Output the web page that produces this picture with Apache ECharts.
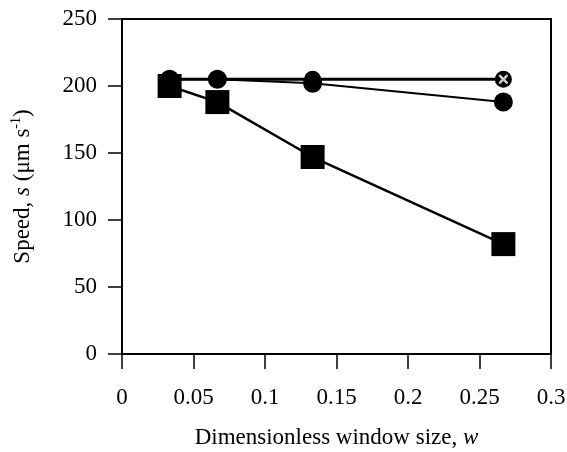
<!DOCTYPE html>
<html>
<head>
<meta charset="utf-8">
<script src="https://cdn.jsdelivr.net/npm/echarts@6/dist/echarts.min.js"></script>
<style>html,body{margin:0;padding:0;background:#fff}#c{width:567px;height:452px}</style>
</head>
<body>
<div id="c"></div>
<script>
var windowSizes = [0.0333, 0.0667, 0.1333, 0.2667];
var squareSpeeds = [200, 188, 147, 82];
var circleSpeeds = [205, 205, 202, 188];
var crossSpeeds = [205, 205, 205, 205];
var xTicks = [0, 0.05, 0.1, 0.15, 0.2, 0.25, 0.3];
var yTicks = [0, 50, 100, 150, 200, 250];

function pairs(xs, ys) { return xs.map(function (x, i) { return [x, ys[i]]; }); }

var font = 'Liberation Serif';
var fs = 23;
var xPath = 'path://M0,0 L2,0 L5,3 L8,0 L10,0 L10,2 L7,5 L10,8 L10,10 L8,10 L5,7 L2,10 L0,10 L0,8 L3,5 L0,2 Z';

var chart = echarts.init(document.getElementById('c'), null, {renderer: 'canvas'});
chart.setOption({
  animation: false,
  backgroundColor: '#fff',
  grid: {left: 122, right: 16, top: 19, bottom: 98, containLabel: false, outerBoundsMode: 'none',
    show: true, borderColor: '#000', borderWidth: 2, backgroundColor: 'transparent'},
  xAxis: {
    type: 'value', min: xTicks[0], max: xTicks[xTicks.length - 1], interval: 0.05,
    splitLine: {show: false},
    axisLine: {lineStyle: {color: '#000', width: 2}},
    axisTick: {show: true, inside: false, length: 15, lineStyle: {color: '#000', width: 1.5}},
    axisLabel: {color: '#000', fontFamily: font, fontSize: fs, margin: 32},
    name: 'Dimensionless window size, {i|w}',
    nameLocation: 'middle', nameGap: 72,
    nameTextStyle: {color: '#000', fontFamily: font, fontSize: fs,
      rich: {i: {fontStyle: 'italic', fontFamily: font, fontSize: fs, color: '#000'}}}
  },
  yAxis: {
    type: 'value', min: yTicks[0], max: yTicks[yTicks.length - 1], interval: 50,
    splitLine: {show: false},
    axisLine: {lineStyle: {color: '#000', width: 2}},
    axisTick: {show: true, inside: false, length: 14, lineStyle: {color: '#000', width: 1.5}},
    axisLabel: {color: '#000', fontFamily: font, fontSize: fs, margin: 25},
    name: 'Speed, {i|s} (μm s{sup|-1})',
    nameLocation: 'middle', nameGap: 86, nameRotate: 90,
    nameTextStyle: {color: '#000', fontFamily: font, fontSize: fs, lineHeight: 27,
      rich: {
        i: {fontStyle: 'italic', fontFamily: font, fontSize: fs, color: '#000', lineHeight: 27},
        sup: {fontFamily: font, fontSize: 14, color: '#000', verticalAlign: 'top', lineHeight: 27, padding: [0, 0, 10, 0]}
      }}
  },
  series: [
    {type: 'line', data: pairs(windowSizes, crossSpeeds), symbol: 'circle', symbolSize: 17,
      lineStyle: {color: '#000', width: 3}, itemStyle: {color: '#000'}, z: 2},
    {type: 'scatter', data: pairs(windowSizes, crossSpeeds), symbol: xPath, symbolSize: 9,
      itemStyle: {color: '#fff'}, z: 3},
    {type: 'line', data: pairs(windowSizes, circleSpeeds), symbol: 'circle', symbolSize: 19,
      lineStyle: {color: '#000', width: 2}, itemStyle: {color: '#000'}, z: 4},
    {type: 'line', data: pairs(windowSizes, squareSpeeds), symbol: 'rect', symbolSize: 24,
      lineStyle: {color: '#000', width: 2.5}, itemStyle: {color: '#000'}, z: 5}
  ]
});
</script>
</body>
</html>
